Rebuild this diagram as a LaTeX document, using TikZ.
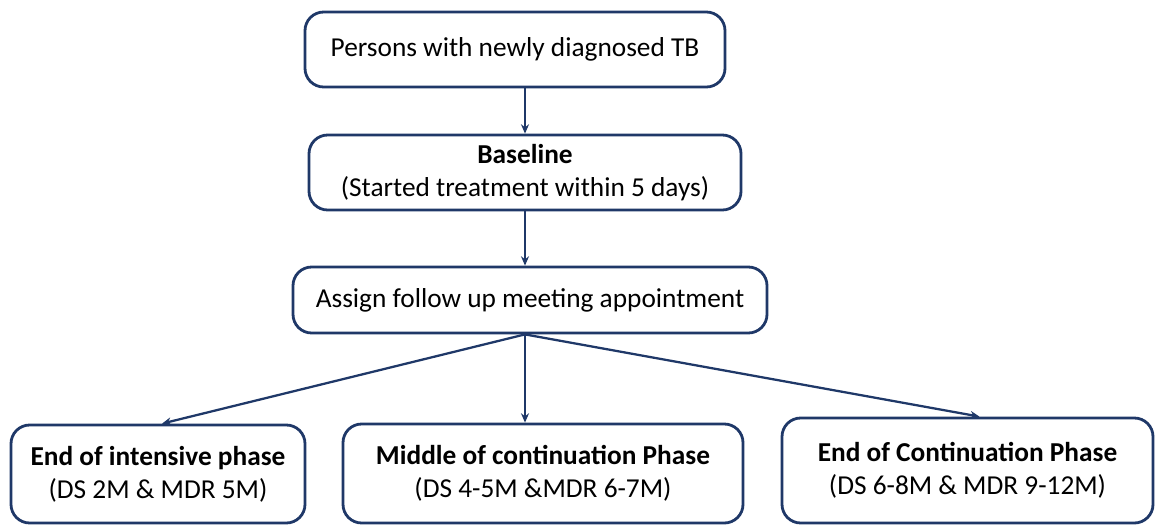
\documentclass[tikz,border=0pt]{standalone}
\usepackage{fontspec}
\setmainfont{Carlito}
\usepackage{xcolor}
\usetikzlibrary{arrows.meta,calc}
\definecolor{navy}{HTML}{1F3868}

\begin{document}
\begin{tikzpicture}[x=0.75pt, y=-0.75pt, >={Stealth[length=7pt,width=6pt]}]
\tikzset{
  flowbox/.style={draw=navy, line width=2.1pt, rounded corners=14pt, fill=white,
    align=center, inner sep=0pt, font=\fontsize{20.5}{25}\selectfont},
  link/.style={->, draw=navy, line width=1.7pt}
}
\useasboundingbox (0,0) rectangle (1155,525);

\node[flowbox, minimum width=315pt, minimum height=56.25pt] (persons) at (515,49.5)
  {Persons with newly diagnosed TB};
\node[flowbox, minimum width=324pt, minimum height=56.25pt] (baseline) at (525,172.5)
  {\textbf{Baseline}\\(Started treatment within 5 days)};
\node[flowbox, minimum width=355.5pt, minimum height=49.5pt] (assign) at (530,300)
  {Assign follow up meeting appointment};

\node[flowbox, minimum width=220.5pt, minimum height=73.5pt] (intensive) at (158,474)
  {\textbf{End of intensive phase}\\(DS 2M \& MDR 5M)};
\node[flowbox, minimum width=300pt, minimum height=74.25pt] (middle) at (543,473.5)
  {\textbf{Middle of continuation Phase}\\(DS 4-5M \&MDR 6-7M)};
\node[flowbox, minimum width=278.25pt, minimum height=78.75pt] (endcont) at (967.5,470.5)
  {\textbf{End of Continuation Phase}\\(DS 6-8M \& MDR 9-12M)};

% vertical links
\draw[link] (baseline.north |- persons.south) -- (baseline.north);
\draw[link] (baseline.south) -- (baseline.south |- assign.north);

% fan out to the three visits
\coordinate (fan) at (baseline.south |- assign.south);
\draw[link] (fan) -- ($(intensive.north)+(4,0)$);
\draw[link] (fan) -- (fan |- middle.north);
\draw[link] (fan) -- ($(endcont.north)+(12,0)$);
\end{tikzpicture}
\end{document}
